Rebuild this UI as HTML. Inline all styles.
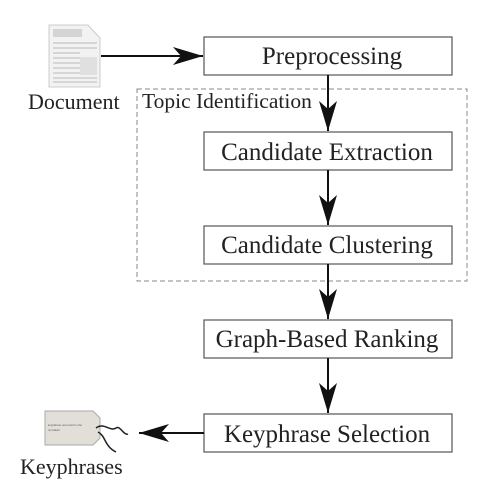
<!DOCTYPE html>
<html><head><style>
html,body{margin:0;padding:0;background:#fff;}
</style></head><body>
<svg width="483" height="497" xmlns="http://www.w3.org/2000/svg" font-family="Liberation Serif, serif">
<defs>
<marker id="ah" markerWidth="32" markerHeight="18" refX="30" refY="9" orient="auto" markerUnits="userSpaceOnUse">
<path d="M0,0 L30,9 L0,18 L8,9 Z" fill="#111"/>
</marker>
</defs>
<path d="M49,25 L88,25 L100,38 L100,87 L49,87 Z" fill="#f2f2f2" stroke="#ccc"/>
<rect x="53" y="29" width="29" height="8" fill="#d4d4d4"/>
<g stroke="#bbb" stroke-width="1">
<line x1="53" y1="43" x2="97" y2="43"/><line x1="53" y1="48" x2="97" y2="48"/>
<line x1="53" y1="53" x2="80" y2="53"/><line x1="53" y1="58" x2="80" y2="58"/>
<line x1="53" y1="63" x2="80" y2="63"/><line x1="53" y1="68" x2="80" y2="68"/>
<line x1="53" y1="73" x2="80" y2="73"/><line x1="53" y1="78" x2="97" y2="78"/>
<line x1="53" y1="82" x2="97" y2="82"/>
</g>
<rect x="80" y="57" width="17" height="18" fill="#e0e0e0"/>
<text x="28" y="109" font-size="22" fill="#222">Document</text>
<rect x="137" y="89" width="330" height="192" fill="none" stroke="#888" stroke-dasharray="5,3" stroke-width="1"/>
<text x="142" y="108" font-size="21.5" fill="#222">Topic Identification</text>
<g fill="#fff" stroke="#555" stroke-width="1.2">
<rect x="204" y="37" width="248" height="38"/>
<rect x="204" y="132" width="248" height="38"/>
<rect x="204" y="226" width="248" height="38"/>
<rect x="204" y="320" width="248" height="38"/>
<rect x="204" y="414" width="248" height="38"/>
</g>
<g font-size="25" fill="#222" text-anchor="middle">
<text x="332" y="64">Preprocessing</text>
<text x="327" y="160">Candidate Extraction</text>
<text x="327" y="253">Candidate Clustering</text>
<text x="327" y="347">Graph-Based Ranking</text>
<text x="327" y="442">Keyphrase Selection</text>
</g>
<g stroke="#111" stroke-width="2" marker-end="url(#ah)">
<line x1="101" y1="56" x2="203" y2="56"/>
<line x1="328" y1="75" x2="328" y2="131"/>
<line x1="328" y1="170" x2="328" y2="225"/>
<line x1="328" y1="264" x2="328" y2="319"/>
<line x1="328" y1="358" x2="328" y2="413"/>
<line x1="204" y1="433" x2="139" y2="433"/>
</g>
<path d="M45,411 L93,411 L100,418 L100,438 L93,445 L45,445 Z" fill="#e2dfd8" stroke="#aaa"/>
<text x="48" y="426" font-size="3" fill="#555">keyphrases associated to the</text>
<text x="48" y="431" font-size="3" fill="#555">document</text>
<path d="M96,428 C104,422 110,432 116,428 C120,425 124,436 128,434 M98,432 C106,436 104,446 116,452" fill="none" stroke="#222" stroke-width="1.5"/>
<text x="20" y="474" font-size="22" fill="#222">Keyphrases</text>
</svg>
</body></html>
